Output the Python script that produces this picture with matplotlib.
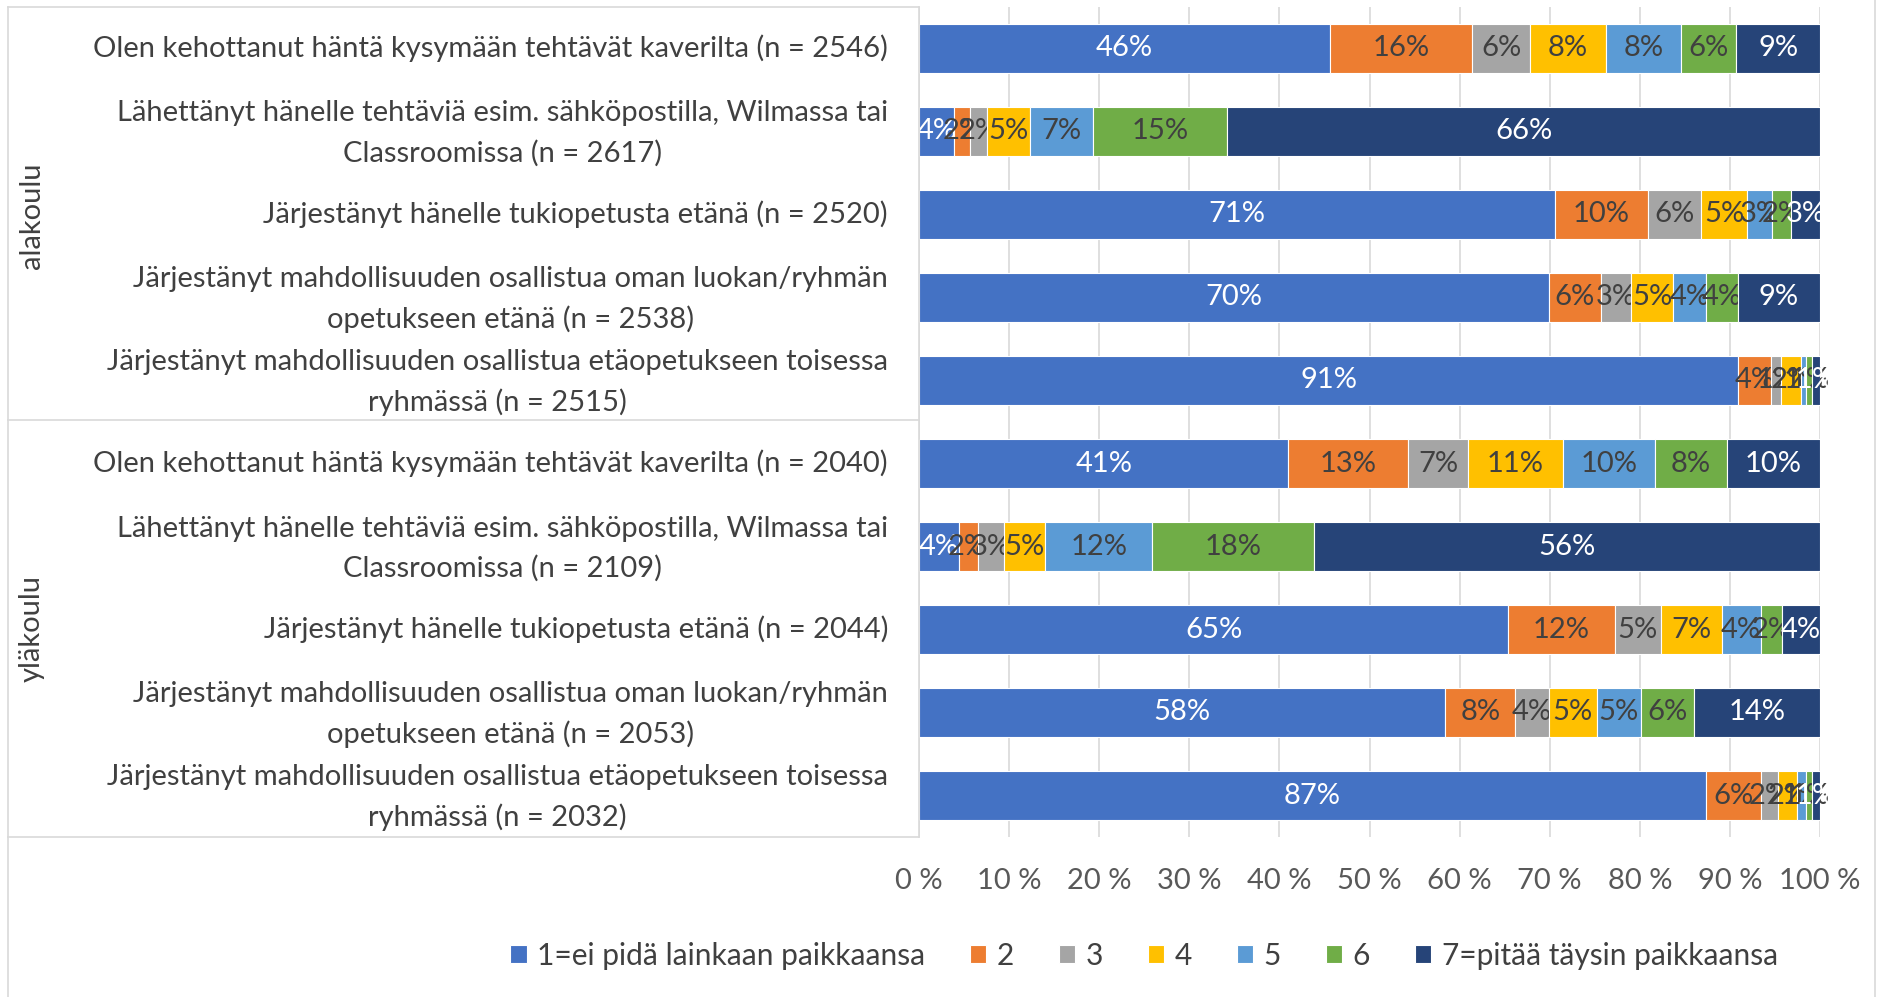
import matplotlib.pyplot as plt
from matplotlib.lines import Line2D
from matplotlib.transforms import blended_transform_factory

plt.rcParams['font.family'] = ['Lato', 'DejaVu Sans']

# Survey rows (top to bottom), split in two school groups
categories = [
    "Olen kehottanut häntä kysymään tehtävät kaverilta (n = 2546)",
    "Lähettänyt hänelle tehtäviä esim. sähköpostilla, Wilmassa tai\nClassroomissa (n = 2617)",
    "Järjestänyt hänelle tukiopetusta etänä (n = 2520)",
    "Järjestänyt mahdollisuuden osallistua oman luokan/ryhmän\nopetukseen etänä (n = 2538)",
    "Järjestänyt mahdollisuuden osallistua etäopetukseen toisessa\nryhmässä (n = 2515)",
    "Olen kehottanut häntä kysymään tehtävät kaverilta (n = 2040)",
    "Lähettänyt hänelle tehtäviä esim. sähköpostilla, Wilmassa tai\nClassroomissa (n = 2109)",
    "Järjestänyt hänelle tukiopetusta etänä (n = 2044)",
    "Järjestänyt mahdollisuuden osallistua oman luokan/ryhmän\nopetukseen etänä (n = 2053)",
    "Järjestänyt mahdollisuuden osallistua etäopetukseen toisessa\nryhmässä (n = 2032)",
]
groups = ["alakoulu", "yläkoulu"]

series_names = ["1=ei pidä lainkaan paikkaansa", "2", "3", "4", "5", "6",
                "7=pitää täysin paikkaansa"]

# Share of answers (%) per row, one list per answer option
s1 = [45.6, 3.9, 70.6, 69.9, 90.9, 41.0, 4.4, 65.4, 58.4, 87.3]
s2 = [15.8, 1.8, 10.3, 5.8, 3.7, 13.3, 2.1, 11.8, 7.8, 6.1]
s3 = [6.4, 1.9, 5.9, 3.3, 1.1, 6.6, 2.9, 5.1, 3.7, 1.9]
s4 = [8.4, 4.7, 5.1, 4.7, 2.2, 10.6, 4.6, 6.8, 5.3, 2.2]
s5 = [8.4, 7.0, 2.8, 3.6, 0.6, 10.2, 11.9, 4.3, 4.9, 1.0]
s6 = [6.1, 14.9, 2.1, 3.6, 0.6, 8.0, 17.9, 2.4, 5.9, 0.6]
s7 = [9.3, 65.8, 3.2, 9.1, 0.9, 10.3, 56.2, 4.2, 14.0, 0.9]
series = [s1, s2, s3, s4, s5, s6, s7]

colors = ["#4472C4", "#ED7D31", "#A5A5A5", "#FFC000", "#5B9BD5", "#70AD47", "#264478"]
label_colors = ["white", "#404040", "#404040", "#404040", "#404040", "#404040", "white"]

FS = 21

W, H = 1879, 997
fig = plt.figure(figsize=(W / 100, H / 100), dpi=100)

# plot area in pixels: x 919..1820, y 7..837 (from top)
px0, px1, py0, py1 = 919, 1820, 7, 837
ax = fig.add_axes([px0 / W, 1 - py1 / H, (px1 - px0) / W, (py1 - py0) / H])

ypos = list(range(len(categories)))
left = [0.0] * len(categories)
handles = []
for vals, name, col, lcol in zip(series, series_names, colors, label_colors):
    bars = ax.barh(ypos, vals, left=left, height=0.58, color=col,
                   edgecolor="white", linewidth=0.8, label=name, zorder=3)
    ax.bar_label(bars, labels=[f"{v:.0f}%" for v in vals], label_type="center",
                 color=lcol, fontsize=FS)
    left = [a + b for a, b in zip(left, vals)]
    handles.append(bars)

ax.set_xlim(0, 100)
ax.set_ylim(len(categories) - 0.5, -0.5)
ax.set_xticks(range(0, 101, 10))
ax.set_xticklabels([f"{t} %" for t in range(0, 101, 10)], fontsize=FS, color="#595959")
ax.set_yticks([])
ax.tick_params(axis="x", length=0, pad=22)
ax.grid(axis="x", color="#d9d9d9", linewidth=1.2, zorder=0)
ax.set_axisbelow(True)
for sp in ax.spines.values():
    sp.set_visible(False)

# row labels, right aligned left of the bars
lab_tr = blended_transform_factory(fig.transFigure, ax.transData)
row_px = (py1 - py0) / len(categories)
for y, text in zip(ypos, categories):
    dy = 2 / row_px if "\n" in text else 0
    ax.text(888 / W, y + dy, text, transform=lab_tr, ha="right", va="center",
            multialignment="center", linespacing=1.6, fontsize=FS,
            color="#404040", clip_on=False)


def hline(x0, x1, y):
    fig.add_artist(Line2D([x0 / W, x1 / W], [1 - y / H, 1 - y / H],
                          color="#d9d9d9", linewidth=1.2))


def vline(x, y0, y1):
    fig.add_artist(Line2D([x / W, x / W], [1 - y0 / H, 1 - y1 / H],
                          color="#d9d9d9", linewidth=1.2))


# category table frame and group divider
hline(8, px0, py0)
hline(8, px0, 420)
hline(8, px0, py1)
vline(8, py0, H)
vline(px0, py0, py1)
vline(1875, 0, H)

# group labels
fig.text(32 / W, 1 - 216 / H, groups[0], rotation=90, ha="center", va="center",
         fontsize=FS, color="#404040")
fig.text(32 / W, 1 - 629 / H, groups[1], rotation=90, ha="center", va="center",
         fontsize=FS, color="#404040")

fig.legend(handles=handles, labels=series_names, loc="center",
           bbox_to_anchor=(1144 / W, 1 - 956 / H), ncol=7, frameon=False,
           fontsize=21.5, handlelength=0.55, handleheight=0.55, handletextpad=0.35,
           columnspacing=1.5, labelcolor="#404040")

fig.savefig("out.png", dpi=100)
